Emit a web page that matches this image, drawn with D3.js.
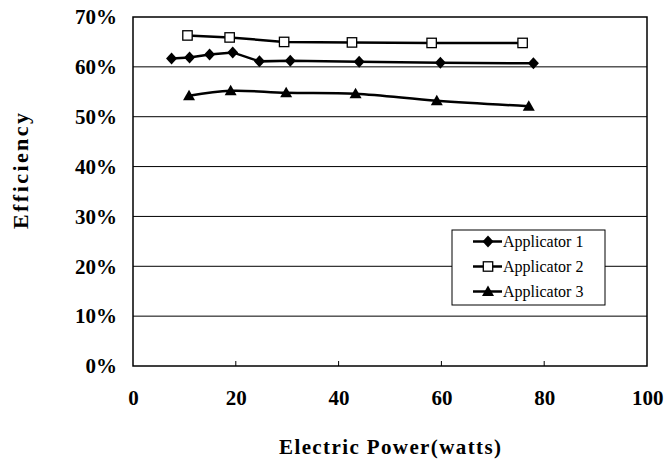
<!DOCTYPE html>
<html><head><meta charset="utf-8">
<script src="https://cdn.jsdelivr.net/npm/d3@7"></script>
<style>
html,body{margin:0;padding:0;background:#fff;}
svg{display:block;}
text{font-family:"Liberation Serif","Times New Roman",serif;fill:#000;}
</style></head>
<body><svg id="c" width="665" height="464"></svg>
<script>
// ---- data ----
const seriesNames = ["Applicator 1", "Applicator 2", "Applicator 3"];
const app1Power = [7.5, 11.0, 14.9, 19.4, 24.6, 30.6, 44.0, 59.8, 77.9];
const app1Eff   = [0.617, 0.619, 0.625, 0.629, 0.611, 0.612, 0.610, 0.608, 0.607];
const app2Power = [10.6, 18.8, 29.4, 42.6, 58.1, 75.8];
const app2Eff   = [0.663, 0.659, 0.650, 0.649, 0.648, 0.648];
const app3Power = [10.9, 19.0, 29.8, 43.3, 59.1, 77.0];
const app3Eff   = [0.542, 0.552, 0.548, 0.546, 0.532, 0.521];
const xTickValues = [0, 20, 40, 60, 80, 100];
const yTickValues = [0, 0.1, 0.2, 0.3, 0.4, 0.5, 0.6, 0.7];
const xTitle = "Electric Power(watts)";
const yTitle = "Efficiency";

// ---- layout ----
const svg = d3.select("#c");
const L = 133, R = 647, T = 17, B = 366;
const x = d3.scaleLinear().domain([0, 100]).range([L, R]);
const y = d3.scaleLinear().domain([0, 0.7]).range([B, T]);

// gridlines
svg.append("g").selectAll("line").data(yTickValues.filter(v => v > 0 && v < 0.7)).join("line")
  .attr("x1", L).attr("x2", R).attr("y1", d => y(d)).attr("y2", d => y(d))
  .attr("stroke", "#000").attr("stroke-width", 1);

// y axis labels
const yAxis = d3.axisLeft(y).tickValues(yTickValues).tickFormat(d3.format(".0%")).tickSize(0).tickPadding(16);
const gy = svg.append("g").attr("transform", `translate(${L},0)`).call(yAxis);
gy.select(".domain").remove();
gy.selectAll("text").attr("font-size", 21).attr("font-weight", "bold")
  .attr("font-family", '"Liberation Serif",serif');

// x axis labels + inward ticks
const xAxis = d3.axisBottom(x).tickValues(xTickValues).tickFormat(d3.format("d")).tickSize(0).tickPadding(24);
const gx = svg.append("g").attr("transform", `translate(0,${B})`).call(xAxis);
gx.select(".domain").remove();
gx.selectAll("text").attr("font-size", 21).attr("font-weight", "bold")
  .attr("font-family", '"Liberation Serif",serif');
gx.selectAll(".tick").filter(d => d === 100).select("text").attr("text-anchor", "end").attr("dx", 16);
svg.append("g").selectAll("line").data(xTickValues.filter(v => v > 0 && v < 100)).join("line")
  .attr("x1", d => x(d)).attr("x2", d => x(d)).attr("y1", B).attr("y2", B - 5)
  .attr("stroke", "#000").attr("stroke-width", 1);

// plot border
svg.append("rect").attr("x", L).attr("y", T).attr("width", R - L).attr("height", B - T)
  .attr("fill", "none").attr("stroke", "#000").attr("stroke-width", 1.5);

// titles
svg.append("text").attr("x", (L + R) / 2).attr("y", 454).attr("text-anchor", "middle")
  .attr("font-size", 21).attr("font-weight", "bold")
  .attr("textLength", 222).attr("lengthAdjust", "spacing").text(xTitle);
svg.append("text").attr("transform", "translate(28,171) rotate(-90)").attr("text-anchor", "middle")
  .attr("font-size", 22).attr("font-weight", "bold")
  .attr("textLength", 116).attr("lengthAdjust", "spacing").text(yTitle);

// markers
function marker(sel, kind) {
  if (kind === 0) sel.append("path").attr("d", "M0,-6L5.5,0L0,6L-5.5,0Z").attr("fill", "#000");
  else if (kind === 1) sel.append("rect").attr("x", -4.7).attr("y", -4.7).attr("width", 9.4).attr("height", 9.4)
    .attr("fill", "#fff").attr("stroke", "#000").attr("stroke-width", 1.3);
  else sel.append("path").attr("d", "M0,-6L6,4.5L-6,4.5Z").attr("fill", "#000");
}

const series = [
  {px: app1Power, py: app1Eff, curve: d3.curveLinear},
  {px: app2Power, py: app2Eff, curve: d3.curveLinear},
  {px: app3Power, py: app3Eff, curve: d3.curveCatmullRom}
];
series.forEach((s, i) => {
  const pts = s.px.map((v, j) => [v, s.py[j]]);
  const line = d3.line().x(d => x(d[0])).y(d => y(d[1])).curve(s.curve);
  svg.append("path").datum(pts).attr("d", line).attr("fill", "none")
    .attr("stroke", "#000").attr("stroke-width", 2.5);
  svg.append("g").selectAll("g").data(pts).join("g")
    .attr("transform", d => `translate(${x(d[0])},${y(d[1])})`)
    .each(function () { marker(d3.select(this), i); });
});

// legend
const lg = svg.append("g");
lg.append("rect").attr("x", 452).attr("y", 230).attr("width", 153).attr("height", 75)
  .attr("fill", "#fff").attr("stroke", "#000").attr("stroke-width", 1);
seriesNames.forEach((name, i) => {
  const cy = 241.5 + i * 25;
  const g = lg.append("g");
  g.append("line").attr("x1", 473).attr("x2", 502).attr("y1", cy).attr("y2", cy)
    .attr("stroke", "#000").attr("stroke-width", 2.5);
  const m = g.append("g").attr("transform", `translate(488,${cy})`);
  marker(m, i);
  g.append("text").attr("x", 503).attr("y", cy + 5.5).attr("font-size", 16).text(name);
});
</script></body></html>
